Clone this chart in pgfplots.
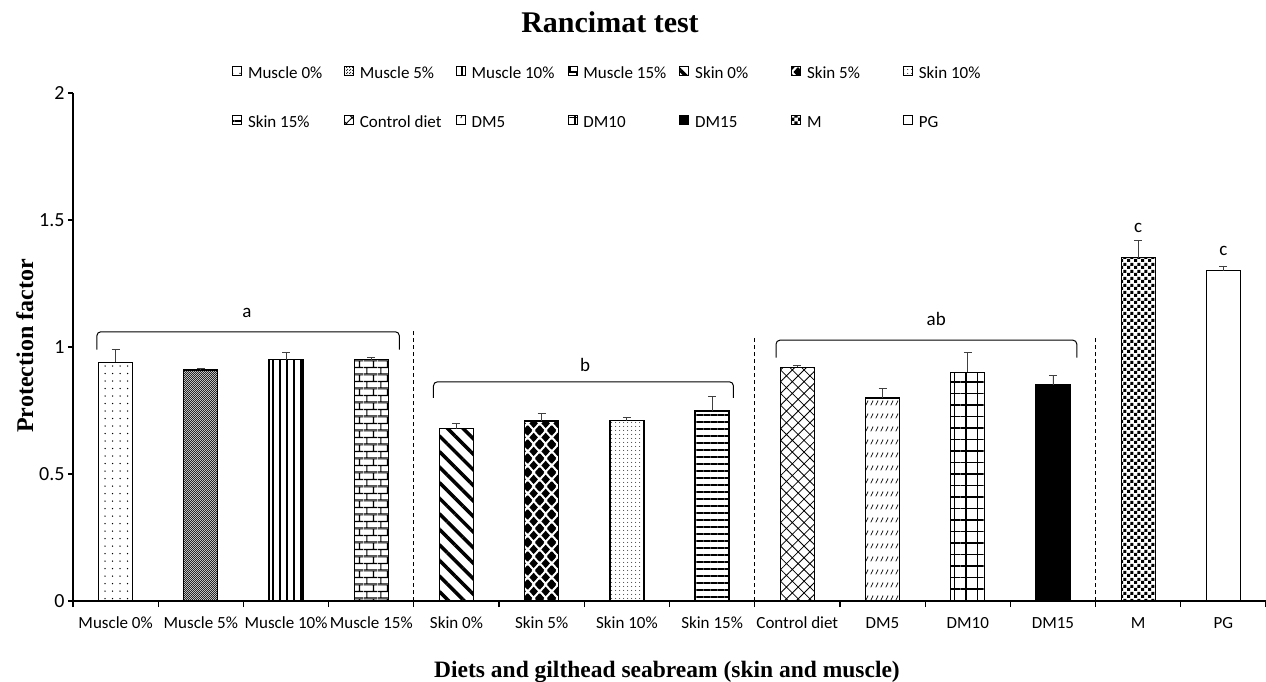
\documentclass[border=0pt]{standalone}
\usepackage{pgfplots}
\pgfplotsset{compat=1.18}
\usepackage{fontspec}
\setmainfont{Carlito}
\newfontfamily\timesfont{Liberation Serif}
\usetikzlibrary{patterns,patterns.meta}

\newcommand\legtext[1]{\makebox[99pt][l]{\hspace*{4.5pt}#1}}

\pgfdeclarepatternformonly{fchecker}{\pgfqpoint{0pt}{0pt}}{\pgfqpoint{2.4pt}{2.4pt}}{\pgfqpoint{2.4pt}{2.4pt}}{%
 \pgfpathrectangle{\pgfqpoint{0pt}{0pt}}{\pgfqpoint{1.3pt}{1.3pt}}%
 \pgfpathrectangle{\pgfqpoint{1.2pt}{1.2pt}}{\pgfqpoint{1.3pt}{1.3pt}}%
 \pgfusepath{fill}}
\pgfdeclarepatternformonly{mybricks}{\pgfqpoint{0pt}{0pt}}{\pgfqpoint{14pt}{14pt}}{\pgfqpoint{14pt}{14pt}}{%
 \pgfsetlinewidth{1.2pt}%
 \pgfpathmoveto{\pgfqpoint{0pt}{0pt}}\pgfpathlineto{\pgfqpoint{14pt}{0pt}}%
 \pgfpathmoveto{\pgfqpoint{0pt}{7pt}}\pgfpathlineto{\pgfqpoint{14pt}{7pt}}%
 \pgfpathmoveto{\pgfqpoint{0pt}{14pt}}\pgfpathlineto{\pgfqpoint{14pt}{14pt}}%
 \pgfpathmoveto{\pgfqpoint{3pt}{0pt}}\pgfpathlineto{\pgfqpoint{3pt}{7pt}}%
 \pgfpathmoveto{\pgfqpoint{10pt}{7pt}}\pgfpathlineto{\pgfqpoint{10pt}{14pt}}%
 \pgfusepath{stroke}}
\pgfdeclarepatternformonly{mydiamonds}{\pgfqpoint{0pt}{0pt}}{\pgfqpoint{12pt}{14pt}}{\pgfqpoint{12pt}{14pt}}{%
 \pgfpathmoveto{\pgfqpoint{6pt}{2pt}}\pgfpathlineto{\pgfqpoint{10.5pt}{7pt}}\pgfpathlineto{\pgfqpoint{6pt}{12pt}}\pgfpathlineto{\pgfqpoint{1.5pt}{7pt}}\pgfpathclose
 \pgfpathmoveto{\pgfqpoint{0pt}{-5pt}}\pgfpathlineto{\pgfqpoint{4.5pt}{0pt}}\pgfpathlineto{\pgfqpoint{0pt}{5pt}}\pgfpathlineto{\pgfqpoint{-4.5pt}{0pt}}\pgfpathclose
 \pgfpathmoveto{\pgfqpoint{12pt}{-5pt}}\pgfpathlineto{\pgfqpoint{16.5pt}{0pt}}\pgfpathlineto{\pgfqpoint{12pt}{5pt}}\pgfpathlineto{\pgfqpoint{7.5pt}{0pt}}\pgfpathclose
 \pgfpathmoveto{\pgfqpoint{0pt}{9pt}}\pgfpathlineto{\pgfqpoint{4.5pt}{14pt}}\pgfpathlineto{\pgfqpoint{0pt}{19pt}}\pgfpathlineto{\pgfqpoint{-4.5pt}{14pt}}\pgfpathclose
 \pgfpathmoveto{\pgfqpoint{12pt}{9pt}}\pgfpathlineto{\pgfqpoint{16.5pt}{14pt}}\pgfpathlineto{\pgfqpoint{12pt}{19pt}}\pgfpathlineto{\pgfqpoint{7.5pt}{14pt}}\pgfpathclose
 \pgfusepath{fill}}
\pgfdeclarepatternformonly{dmdash}{\pgfqpoint{0pt}{0pt}}{\pgfqpoint{5pt}{13pt}}{\pgfqpoint{5pt}{13pt}}{%
 \pgfsetlinewidth{0.8pt}%
 \pgfpathmoveto{\pgfqpoint{0.9pt}{4pt}}\pgfpathlineto{\pgfqpoint{3.6pt}{9pt}}%
 \pgfusepath{stroke}}
\pgfdeclarepatternformonly{msquares}{\pgfqpoint{0pt}{0pt}}{\pgfqpoint{7pt}{7pt}}{\pgfqpoint{7pt}{7pt}}{%
 \pgfpathrectangle{\pgfqpoint{0.2pt}{0.2pt}}{\pgfqpoint{3.3pt}{3.3pt}}%
 \pgfpathrectangle{\pgfqpoint{3.7pt}{3.7pt}}{\pgfqpoint{3.3pt}{3.3pt}}%
 \pgfusepath{fill}}

\begin{document}
\begin{tikzpicture}
\useasboundingbox (0pt,0pt) rectangle (1266pt,681pt);
\begin{axis}[
  at={(73pt,80pt)}, anchor=south west,
  scale only axis, width=1193pt, height=508pt,
  xmin=-0.5, xmax=13.5, ymin=0, ymax=2,
  axis lines*=left,
  axis line style={line width=1.2pt, black},
  clip=false,
  xtick={0,...,13},
  xticklabels={Muscle 0\%, Muscle 5\%, Muscle 10\%, Muscle 15\%, Skin 0\%, Skin 5\%, Skin 10\%, Skin 15\%, Control diet, DM5, DM10, DM15, M, PG},
  minor xtick={-0.5,0.5,...,13.5},
  ytick={0,0.5,1,1.5,2},
  tick align=outside,
  major tick length=5pt, minor tick length=6pt,
  major x tick style={draw=none},
  every tick/.style={black, line width=1.2pt},
  minor x tick style={black, line width=1.2pt},
  /pgf/number format/assume math mode=true,
  xticklabel style={font=\fontsize{17}{20}\selectfont, text height=12pt, text depth=4pt, yshift=-7pt},
  yticklabel style={font=\fontsize{20}{23}\selectfont},
  legend columns=7,
  legend style={at={(axis description cs:0.1333,1.055)}, anchor=north west, draw=none, fill=none,
    font=\fontsize{17}{20}\selectfont, row sep=30pt, column sep=0pt, inner sep=0pt,
    nodes={inner sep=1.5pt, text height=12pt, text depth=4pt}},
  legend image code/.code={\draw[#1, line width=0.8pt] (0pt,-0.5pt) rectangle (9pt,8.5pt);},
  mybar/.style={ybar, bar width=34pt, bar shift=0pt, draw=black, line width=1.3pt,
    error bars/y dir=plus, error bars/y explicit,
    error bars/error bar style={line width=0.9pt, black!75},
    error bars/error mark options={rotate=90, mark size=4pt, line width=0.9pt, black!75}},
]
\addplot[mybar, pattern={Dots[distance=7.5pt, radius=0.75pt]}] coordinates {(0,0.94) +- (0,0.05)};
\addlegendentry{\legtext{Muscle 0\%}}
\addplot[mybar, pattern=fchecker, pattern color=black!85] coordinates {(1,0.91) +- (0,0.007)};
\addlegendentry{\legtext{Muscle 5\%}}
\addplot[mybar, pattern={Lines[angle=90, distance=7pt, line width=1.2pt]}] coordinates {(2,0.95) +- (0,0.03)};
\addlegendentry{\legtext{Muscle 10\%}}
\addplot[mybar, pattern=mybricks] coordinates {(3,0.95) +- (0,0.01)};
\addlegendentry{\legtext{Muscle 15\%}}
\addplot[mybar, pattern={Lines[angle=-45, distance=11pt, line width=3.5pt]}] coordinates {(4,0.678) +- (0,0.022)};
\addlegendentry{\legtext{Skin 0\%}}
\addplot[mybar, pattern=mydiamonds] coordinates {(5,0.709) +- (0,0.031)};
\addlegendentry{\legtext{Skin 5\%}}
\addplot[mybar, pattern={Dots[distance=4pt, radius=0.6pt]}] coordinates {(6,0.71) +- (0,0.012)};
\addlegendentry{\legtext{Skin 10\%}}
\addplot[mybar, pattern={Lines[angle=0, distance=7pt, line width=1.1pt]}] coordinates {(7,0.748) +- (0,0.059)};
\addlegendentry{\legtext{Skin 15\%}}
\addplot[mybar, pattern={Hatch[angle=45, distance=8.3pt, line width=0.8pt]}] coordinates {(8,0.92) +- (0,0.006)};
\addlegendentry{\legtext{Control diet}}
\addplot[mybar, pattern=dmdash] coordinates {(9,0.799) +- (0,0.039)};
\addlegendentry{\legtext{DM5}}
\addplot[mybar, pattern={Hatch[angle=0, distance=11.5pt, line width=1.1pt]}] coordinates {(10,0.90) +- (0,0.078)};
\addlegendentry{\legtext{DM10}}
\addplot[mybar, fill=black] coordinates {(11,0.85) +- (0,0.037)};
\addlegendentry{\legtext{DM15}}
\addplot[mybar, pattern=msquares] coordinates {(12,1.352) +- (0,0.066)};
\addlegendentry{\legtext{M}}
\addplot[mybar, fill=white] coordinates {(13,1.30) +- (0,0.019)};
\addlegendentry{\legtext{PG}}

% group brackets
\draw[line width=1pt, rounded corners=4pt] (axis cs:-0.22,0.99) -- (axis cs:-0.22,1.06) -- (axis cs:3.33,1.06) -- (axis cs:3.33,0.99);
\draw[line width=1pt, rounded corners=4pt] (axis cs:3.73,0.80) -- (axis cs:3.73,0.863) -- (axis cs:7.25,0.863) -- (axis cs:7.25,0.80);
\draw[line width=1pt, rounded corners=4pt] (axis cs:7.75,0.958) -- (axis cs:7.75,1.027) -- (axis cs:11.28,1.027) -- (axis cs:11.28,0.958);
% separators
\draw[line width=1.2pt, dash pattern=on 4pt off 3pt] (axis cs:3.5,0) -- (axis cs:3.5,1.063);
\draw[line width=1.2pt, dash pattern=on 4pt off 3pt] (axis cs:7.5,0) -- (axis cs:7.5,1.035);
\draw[line width=1.2pt, dash pattern=on 4pt off 3pt] (axis cs:11.5,0) -- (axis cs:11.5,1.047);
% letters
\node[font=\fontsize{19}{22}\selectfont] at (axis cs:1.54,1.134) {a};
\node[font=\fontsize{19}{22}\selectfont] at (axis cs:5.51,0.93) {b};
\node[font=\fontsize{19}{22}\selectfont] at (axis cs:9.63,1.11) {ab};
\node[font=\fontsize{19}{22}\selectfont] at (axis cs:12,1.47) {c};
\node[font=\fontsize{19}{22}\selectfont] at (axis cs:13,1.38) {c};
\end{axis}
\node[font=\timesfont\bfseries\fontsize{30}{34}\selectfont, anchor=base] at (610pt,648pt) {Rancimat test};
\node[font=\timesfont\bfseries\fontsize{23.5}{27}\selectfont, anchor=base] at (667pt,4pt) {Diets and gilthead seabream (skin and muscle)};
\node[font=\timesfont\bfseries\fontsize{24}{27}\selectfont, anchor=base, rotate=90] at (33pt,335pt) {Protection factor};
\end{tikzpicture}
\end{document}
